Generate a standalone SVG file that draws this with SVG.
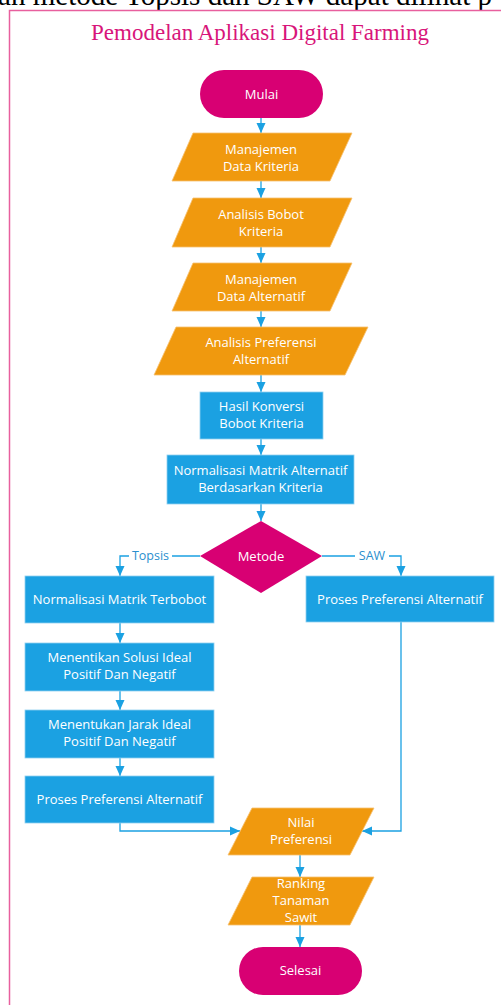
<svg xmlns="http://www.w3.org/2000/svg" width="501" height="1005" viewBox="0 0 501 1005">
<style>
.doc{font-family:"Liberation Serif",serif;font-size:30px;fill:#000}
.title{font-family:"Liberation Serif",serif;font-size:23px;fill:#d8157a}
.t{font-family:"Open Sans","Noto Sans",sans-serif;font-size:13px;fill:#fff;text-anchor:middle}
.lbl{font-family:"Open Sans","Noto Sans",sans-serif;font-size:12.5px;fill:#2a8fce;text-anchor:middle}
.term{fill:#d80073}
.io{fill:#f0990e;stroke:#f6c070;stroke-width:0.8}
.proc{fill:#1ba1e2;stroke:#8fd0f0;stroke-width:0.8}
.dec{fill:#d80073}
.c{fill:none;stroke:#1ba1e2;stroke-width:1.3}
</style>
<defs>
<marker id="ah" markerUnits="userSpaceOnUse" markerWidth="10" markerHeight="10" viewBox="0 0 10 10" refX="10" refY="5" orient="auto">
<path d="M0,0.5 L10,5 L0,9.5 Z" fill="#1ba1e2"/>
</marker>
</defs>
<rect width="501" height="1005" fill="#fff"/>
<text class="doc" x="-2" y="5" textLength="494" lengthAdjust="spacingAndGlyphs">an metode Topsis dan SAW dapat dilihat p</text>
<path d="M9.5,1010 L9.5,10.5 L510,10.5" fill="none" stroke="#e8609e" stroke-width="1.5"/>
<text class="title" x="260" y="40" text-anchor="middle">Pemodelan Aplikasi Digital Farming</text>

<g id="connectors">
<line class="c" x1="261" y1="118" x2="261" y2="133" marker-end="url(#ah)"/>
<line class="c" x1="261" y1="181" x2="261" y2="198" marker-end="url(#ah)"/>
<line class="c" x1="261" y1="247" x2="261" y2="263" marker-end="url(#ah)"/>
<line class="c" x1="261" y1="311" x2="261" y2="327" marker-end="url(#ah)"/>
<line class="c" x1="261" y1="375" x2="261" y2="392" marker-end="url(#ah)"/>
<line class="c" x1="261" y1="439" x2="261" y2="455" marker-end="url(#ah)"/>
<line class="c" x1="261" y1="504" x2="261" y2="521" marker-end="url(#ah)"/>
<polyline class="c" points="200,556 120,556 120,576" marker-end="url(#ah)"/>
<polyline class="c" points="322,556 401,556 401,576" marker-end="url(#ah)"/>
<rect x="129" y="549" width="43" height="14" fill="#fff"/>
<text class="lbl" x="150.5" y="560">Topsis</text>
<rect x="355" y="549" width="34" height="14" fill="#fff"/>
<text class="lbl" x="372" y="560">SAW</text>
<line class="c" x1="120" y1="623" x2="120" y2="643" marker-end="url(#ah)"/>
<line class="c" x1="120" y1="691" x2="120" y2="710" marker-end="url(#ah)"/>
<line class="c" x1="120" y1="758" x2="120" y2="776" marker-end="url(#ah)"/>
<polyline class="c" points="120,823 120,831 240,831" marker-end="url(#ah)"/>
<polyline class="c" points="401,622 401,831 362,831" marker-end="url(#ah)"/>
<line class="c" x1="300" y1="855" x2="300" y2="877" marker-end="url(#ah)"/>
<line class="c" x1="300" y1="925" x2="300" y2="947" marker-end="url(#ah)"/>
</g>

<g id="mulai">
<rect class="term" x="200" y="70" width="123" height="48" rx="24"/>
<text class="t" x="261.5" y="99">Mulai</text>
</g>
<g id="p1">
<polygon class="io" points="193,133 352,133 330,181 172,181"/>
<text class="t" x="261" y="154">Manajemen</text>
<text class="t" x="261" y="171">Data Kriteria</text>
</g>
<g id="p2">
<polygon class="io" points="193,198 352,198 330,247 172,247"/>
<text class="t" x="261" y="219">Analisis Bobot</text>
<text class="t" x="261" y="236">Kriteria</text>
</g>
<g id="p3">
<polygon class="io" points="193,263 352,263 330,311 172,311"/>
<text class="t" x="261" y="284">Manajemen</text>
<text class="t" x="261" y="301">Data Alternatif</text>
</g>
<g id="p4">
<polygon class="io" points="176,327 368,327 345,375 154,375"/>
<text class="t" x="261" y="347">Analisis Preferensi</text>
<text class="t" x="261" y="364">Alternatif</text>
</g>
<g id="r1">
<rect class="proc" x="200" y="392" width="123" height="47"/>
<text class="t" x="261.5" y="411">Hasil Konversi</text>
<text class="t" x="261.5" y="428">Bobot Kriteria</text>
</g>
<g id="r2">
<rect class="proc" x="167" y="455" width="187" height="49"/>
<text class="t" x="260.5" y="475">Normalisasi Matrik Alternatif</text>
<text class="t" x="260.5" y="492">Berdasarkan Kriteria</text>
</g>
<g id="metode">
<polygon class="dec" points="261,521 322,556 261,593 200,556"/>
<text class="t" x="261" y="561">Metode</text>
</g>
<g id="l1">
<rect class="proc" x="25" y="576" width="189" height="47"/>
<text class="t" x="119.5" y="604">Normalisasi Matrik Terbobot</text>
</g>
<g id="l2">
<rect class="proc" x="25" y="643" width="189" height="48"/>
<text class="t" x="119.5" y="662">Menentikan Solusi Ideal</text>
<text class="t" x="119.5" y="679">Positif Dan Negatif</text>
</g>
<g id="l3">
<rect class="proc" x="25" y="710" width="189" height="48"/>
<text class="t" x="119.5" y="729">Menentukan Jarak Ideal</text>
<text class="t" x="119.5" y="746">Positif Dan Negatif</text>
</g>
<g id="l4">
<rect class="proc" x="25" y="776" width="189" height="47"/>
<text class="t" x="119.5" y="804">Proses Preferensi Alternatif</text>
</g>
<g id="saw">
<rect class="proc" x="306" y="576" width="188" height="46"/>
<text class="t" x="400" y="604">Proses Preferensi Alternatif</text>
</g>
<g id="nilai">
<polygon class="io" points="252,808 374,808 350,855 228,855"/>
<text class="t" x="301" y="827">Nilai</text>
<text class="t" x="301" y="844">Preferensi</text>
</g>
<g id="ranking">
<polygon class="io" points="252,877 374,877 350,925 228,925"/>
<text class="t" x="301" y="888">Ranking</text>
<text class="t" x="301" y="905">Tanaman</text>
<text class="t" x="301" y="922">Sawit</text>
</g>
<g id="selesai">
<rect class="term" x="239" y="947" width="123" height="48" rx="24"/>
<text class="t" x="300.5" y="975">Selesai</text>
</g>
</svg>
